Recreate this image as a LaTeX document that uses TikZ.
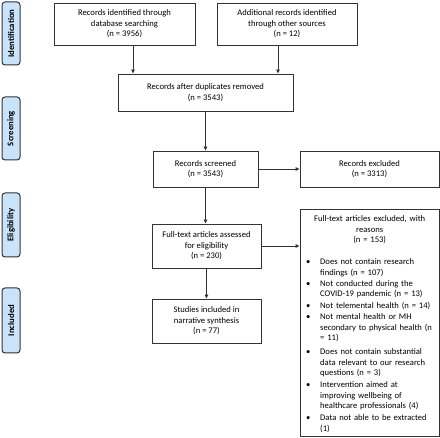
\documentclass[tikz,border=0pt]{standalone}
\usepackage{fontspec}
\setmainfont{Carlito}
\usetikzlibrary{arrows.meta}
\definecolor{lblfill}{HTML}{C9E3FA}
\definecolor{lnc}{HTML}{333333}
\newcommand{\bl}[1]{\noindent\makebox[14pt][l]{•}#1\par}
\newcommand{\cl}[1]{\noindent\hspace*{14pt}#1\par}
\begin{document}
\begin{tikzpicture}[x=1pt,y=-1pt,
  box/.style={draw=lnc,line width=0.9pt,fill=white,inner sep=0pt,align=center,
    font=\fontsize{8.6}{10.5}\selectfont,text=black},
  lbl/.style={draw=lnc,line width=1pt,fill=lblfill,rounded corners=3pt,rotate=90,
    minimum height=18pt,inner sep=0pt,font=\bfseries\fontsize{8.7}{10}\selectfont},
  arr/.style={draw=lnc,line width=0.9pt,-{Triangle[length=4pt,width=3.6pt]}}]
\useasboundingbox (0,0) rectangle (440,438);
% stage labels
\node[lbl,minimum width=63pt] (l1) at (11,33.5) {Identification};
\node[lbl,minimum width=63pt] (l2) at (11,128.5) {Screening};
\node[lbl,minimum width=64pt] (l3) at (11,225) {Eligibility};
\node[lbl,minimum width=65pt] (l4) at (11,320.5) {Included};
% boxes
\node[box,minimum width=141pt,minimum height=42pt] (b1) at (124.5,24) {Records identified through\\database searching\\(n = 3956)};
\node[box,minimum width=140pt,minimum height=42pt] (b2) at (287,24) {Additional records identified\\through other sources\\(n = 12)};
\node[box,minimum width=175pt,minimum height=37pt] (b3) at (205.5,92.5) {Records after duplicates removed\\(n = 3543)};
\node[box,minimum width=105pt,minimum height=36pt] (b4) at (205.5,169) {Records screened\\(n = 3543)};
\node[box,minimum width=139pt,minimum height=36pt] (b5) at (369.5,169) {Records excluded\\(n = 3313)};
\node[box,minimum width=109pt,minimum height=44pt] (b6) at (206.5,246) {Full-text articles assessed\\for eligibility\\(n = 230)};
\node[box,minimum width=109pt,minimum height=44pt] (b8) at (206.5,321) {Studies included in\\narrative synthesis\\(n = 77)};
\node[box,minimum width=139pt,minimum height=227pt] (b7) at (369.5,322.5) {};
\node[anchor=north west,inner sep=0pt,text width=127pt,text=black,
  font=\fontsize{8.6}{10.5}\selectfont] (b7t) at (306,214) {%
\lineskiplimit=-5pt\parskip=0pt
{\centering\strut Full-text articles excluded, with\\reasons\\(n = 153)\par}\vspace{11.5pt}%
\bl{Does not contain research}
\cl{findings (n = 107)}\vspace{0.5pt}
\bl{Not conducted during the}
\cl{COVID-19 pandemic (n = 13)}\vspace{1.5pt}
\bl{Not telemental health (n = 14)}\vspace{0.5pt}
\bl{Not mental health or MH}
\cl{secondary to physical health (n}
\cl{= 11)}\vspace{3.5pt}
\bl{Does not contain substantial}
\cl{data relevant to our research}
\cl{questions (n = 3)}\vspace{1.5pt}
\bl{Intervention aimed at}
\cl{improving wellbeing of}
\cl{healthcare professionals (4)}\vspace{1.5pt}
\bl{Data not able to be extracted}
\cl{(1)}};
% connectors
\coordinate (c1) at (133,0);
\coordinate (c2) at (278,0);
\draw[arr] (b1.south -| c1) -- (b3.north -| c1);
\draw[arr] (b2.south -| c2) -- (b3.north -| c2);
\draw[arr] (b3.south) -- (b3.south |- b4.north);
\draw[arr] (b4.east) -- (b4.east -| b5.west);
\draw[arr] (b4.south) -- (b4.south |- b6.north);
\draw[arr] (b6.east) -- (b6.east -| b7.west);
\draw[arr] (b6.south) -- (b6.south |- b8.north);
\end{tikzpicture}
\end{document}
